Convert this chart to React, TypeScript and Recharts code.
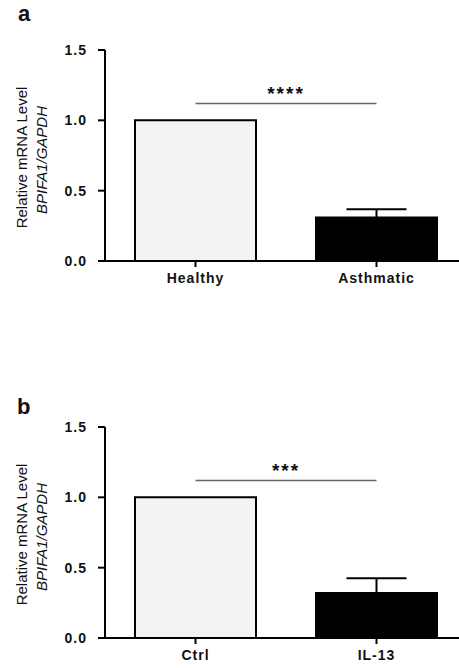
import { BarChart, Bar, XAxis, YAxis, Cell, ErrorBar, ReferenceLine } from "recharts";

const categoriesA = ["Healthy", "Asthmatic"];
const valuesA = [1.0, 0.31];
const errorsA = [0, 0.058];
const starsA = "****";
const sigLevelA = 1.12;

const categoriesB = ["Ctrl", "IL-13"];
const valuesB = [1.0, 0.32];
const errorsB = [0, 0.104];
const starsB = "***";
const sigLevelB = 1.12;

const yTicks = [0, 0.5, 1.0, 1.5];
const barFills = ["#f3f3f3", "#000000"];

const font = '"Liberation Sans", Arial, Helvetica, sans-serif';

function AxisTitle(props: { viewBox?: { x: number; y: number; width: number; height: number } }) {
  const vb = props.viewBox ?? { x: 0, y: 50, width: 105, height: 211 };
  const cy = vb.y + vb.height / 2;
  return (
    <g fontFamily={font} fontSize={15} fill="#111">
      <text x={27} y={cy + 2} textAnchor="middle" transform={`rotate(-90, 27, ${cy + 2})`}>
        Relative mRNA Level
      </text>
      <text
        x={47}
        y={cy + 4.5}
        textAnchor="middle"
        fontStyle="italic"
        transform={`rotate(-90, 47, ${cy + 4.5})`}
      >
        BPIFA1/GAPDH
      </text>
    </g>
  );
}

interface PanelProps {
  categories: string[];
  values: number[];
  errors: number[];
  stars: string;
  sigLevel: number;
}

function Panel({ categories, values, errors, stars, sigLevel }: PanelProps) {
  const data = categories.map((name, i) => ({ name, value: values[i], err: errors[i] }));
  const axisStroke = { stroke: "#000", strokeWidth: 2 };

  return (
    <BarChart width={467} height={300} data={data} margin={{ top: 50, right: 0, bottom: 0, left: 0 }}>
      <XAxis
        dataKey="name"
        height={39}
        interval={0}
        axisLine={axisStroke}
        tickLine={axisStroke}
        tickSize={6}
        tickMargin={6}
        tick={{ fill: "#111", fontSize: 14, fontWeight: "bold", fontFamily: font, letterSpacing: 1 }}
      />
      <YAxis
        width={105}
        domain={[0, 1.5]}
        ticks={yTicks}
        interval={0}
        tickFormatter={(v: number) => v.toFixed(1)}
        axisLine={axisStroke}
        tickLine={axisStroke}
        tickSize={7}
        tickMargin={11}
        tick={{ fill: "#111", fontSize: 14, fontWeight: "bold", fontFamily: font, letterSpacing: 1 }}
        label={<AxisTitle />}
      />
      <ReferenceLine
        segment={[
          { x: categories[0], y: sigLevel },
          { x: categories[1], y: sigLevel },
        ]}
        stroke="#666"
        strokeWidth={1.5}
        ifOverflow="visible"
        label={{
          value: stars,
          position: "top",
          offset: 3,
          fill: "#111",
          fontSize: 19,
          fontWeight: "bold",
          fontFamily: font,
          letterSpacing: 2,
        }}
      />
      <Bar dataKey="value" barSize={121} stroke="#000" strokeWidth={2} isAnimationActive={false}>
        {data.map((_, i) => (
          <Cell key={i} fill={barFills[i]} />
        ))}
        <ErrorBar dataKey="err" direction="y" width={30} stroke="#000" strokeWidth={2} isAnimationActive={false} />
      </Bar>
    </BarChart>
  );
}

const letterStyle = {
  position: "absolute" as const,
  left: 18,
  fontFamily: font,
  fontWeight: "bold" as const,
  fontSize: 22,
  lineHeight: "22px",
  color: "#111",
};

export default function App() {
  return (
    <div
      style={{
        position: "absolute",
        left: 0,
        top: 0,
        width: 459,
        height: 668,
        overflow: "hidden",
        background: "#fff",
      }}
    >
      <div style={{ ...letterStyle, top: 3 }}>a</div>
      <div style={{ position: "absolute", left: 0, top: 0 }}>
        <Panel categories={categoriesA} values={valuesA} errors={errorsA} stars={starsA} sigLevel={sigLevelA} />
      </div>
      <div style={{ ...letterStyle, top: 396, left: 17 }}>b</div>
      <div style={{ position: "absolute", left: 0, top: 377 }}>
        <Panel categories={categoriesB} values={valuesB} errors={errorsB} stars={starsB} sigLevel={sigLevelB} />
      </div>
    </div>
  );
}
